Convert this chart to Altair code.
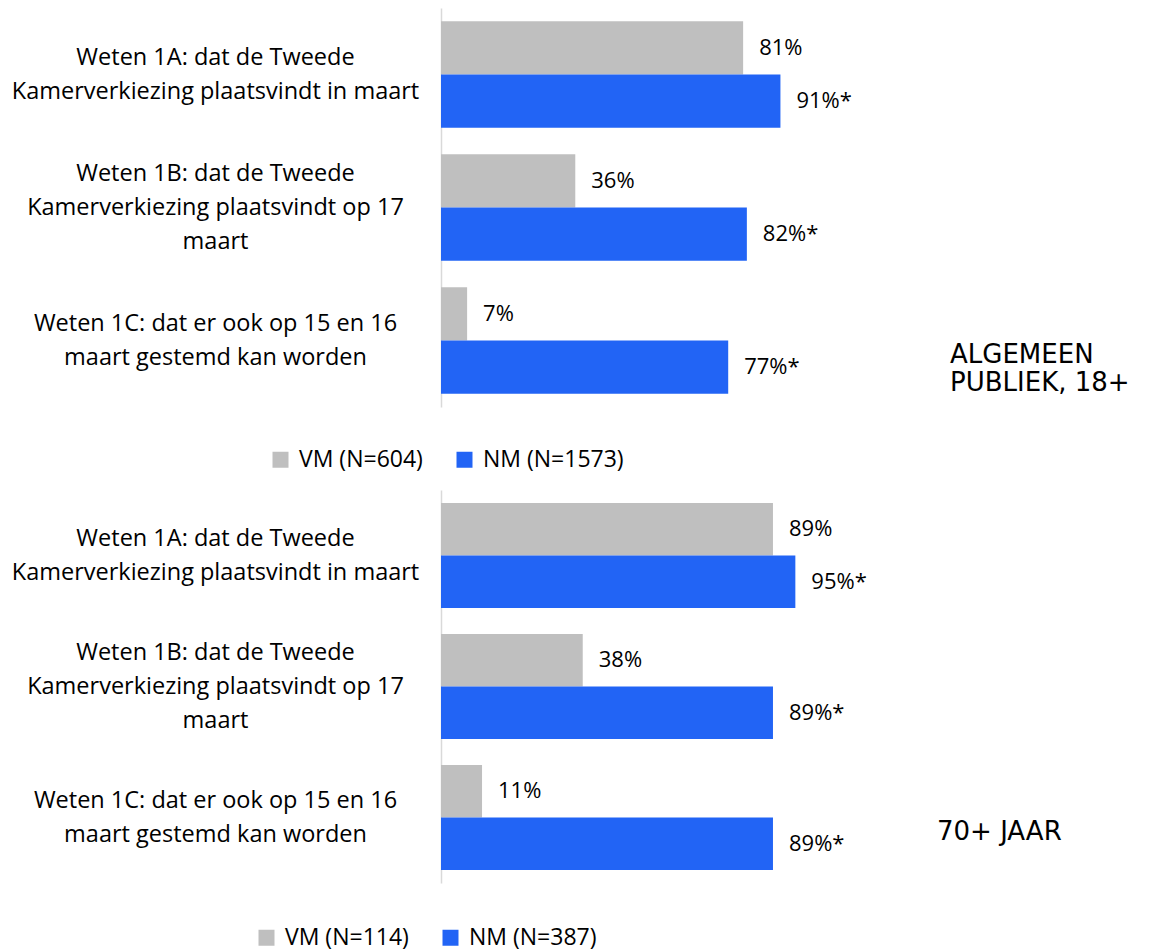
import altair as alt
import pandas as pd

categories = [
    "Weten 1A: dat de Tweede|Kamerverkiezing plaatsvindt in maart",
    "Weten 1B: dat de Tweede|Kamerverkiezing plaatsvindt op 17|maart",
    "Weten 1C: dat er ook op 15 en 16|maart gestemd kan worden",
]
series_top = ["VM (N=604)", "NM (N=1573)"]
vm_top = [81, 36, 7]
nm_top = [91, 82, 77]
series_bottom = ["VM (N=114)", "NM (N=387)"]
vm_bottom = [89, 38, 11]
nm_bottom = [95, 89, 89]
nm_marker = ["*", "*", "*"]
title_top = ["ALGEMEEN", "PUBLIEK, 18+"]
title_bottom = ["70+ JAAR"]
colors = ["#BFBFBF", "#2264F5"]

FONT = "Open Sans"
LINE_H = 34


def panel(vm, nm, series, title_lines, height, legend_x, legend_y, title_x, title_y):
    rows = []
    for i, c in enumerate(categories):
        rows.append({"cat": c, "series": series[0], "value": vm[i], "label": f"{vm[i]}%"})
        rows.append({"cat": c, "series": series[1], "value": nm[i], "label": f"{nm[i]}%{nm_marker[i]}"})
    df = pd.DataFrame(rows)
    base = alt.Chart(df).encode(
        y=alt.Y(
            "cat:N",
            sort=categories,
            title=None,
            scale=alt.Scale(paddingInner=0.2, paddingOuter=0.1),
            axis=alt.Axis(
                labelExpr="split(datum.value, '|')",
                labelAlign="center",
                labelBaseline="middle",
                labelPadding=226,
                labelLimit=600,
                labelFont=FONT,
                labelFontSize=23.5,
                labelColor="#000000",
                labelLineHeight=LINE_H,
                labelOffset={
                    "condition": {
                        "test": "length(split(datum.value, '|')) == 3",
                        "value": -LINE_H,
                    },
                    "value": -LINE_H / 2,
                },
                ticks=False,
                grid=False,
                domainColor="#D9D9D9",
                domainWidth=1.5,
            ),
        ),
        yOffset=alt.YOffset("series:N", sort=series, scale=alt.Scale(domain=series)),
        x=alt.X("value:Q", scale=alt.Scale(domain=[0, 100]), axis=None),
    )
    bars = base.mark_bar().encode(
        color=alt.Color(
            "series:N",
            scale=alt.Scale(domain=series, range=colors),
            legend=alt.Legend(
                orient="none",
                legendX=legend_x,
                legendY=legend_y,
                direction="horizontal",
                title=None,
                symbolType="square",
                symbolSize=256,
                symbolStrokeWidth=0,
                labelFont=FONT,
                labelFontSize=23,
                labelColor="#000000",
                columnPadding=30,
                labelOffset=7,
            ),
        )
    )
    labels = base.mark_text(
        align="left", baseline="middle", dx=16, font=FONT, fontSize=22, color="#000000"
    ).encode(text="label:N")
    ann = alt.Chart(pd.DataFrame({"a": [0]})).mark_text(
        text=title_lines,
        align="left",
        baseline="middle",
        font="DejaVu Sans",
        fontSize=26,
        lineHeight=28,
        color="#000000",
    ).encode(x=alt.value(title_x), y=alt.value(title_y))
    return alt.layer(bars, labels, ann).properties(width=373, height=height)


top = panel(vm_top, nm_top, series_top, title_top, 399, -172, 440, 509, 347)
bottom = panel(vm_bottom, nm_bottom, series_bottom, title_bottom, 393, -186, 436, 496, 342)

chart = (
    alt.vconcat(top, bottom, spacing=18)
    .resolve_scale(color="independent", y="independent", x="independent", yOffset="independent")
    .resolve_legend(color="independent")
    .properties(padding={"left": 3, "top": 0, "right": 5, "bottom": 40})
    .configure_view(stroke=None)
)

chart.save("out.html", embed_options={"renderer": "svg", "actions": False})
